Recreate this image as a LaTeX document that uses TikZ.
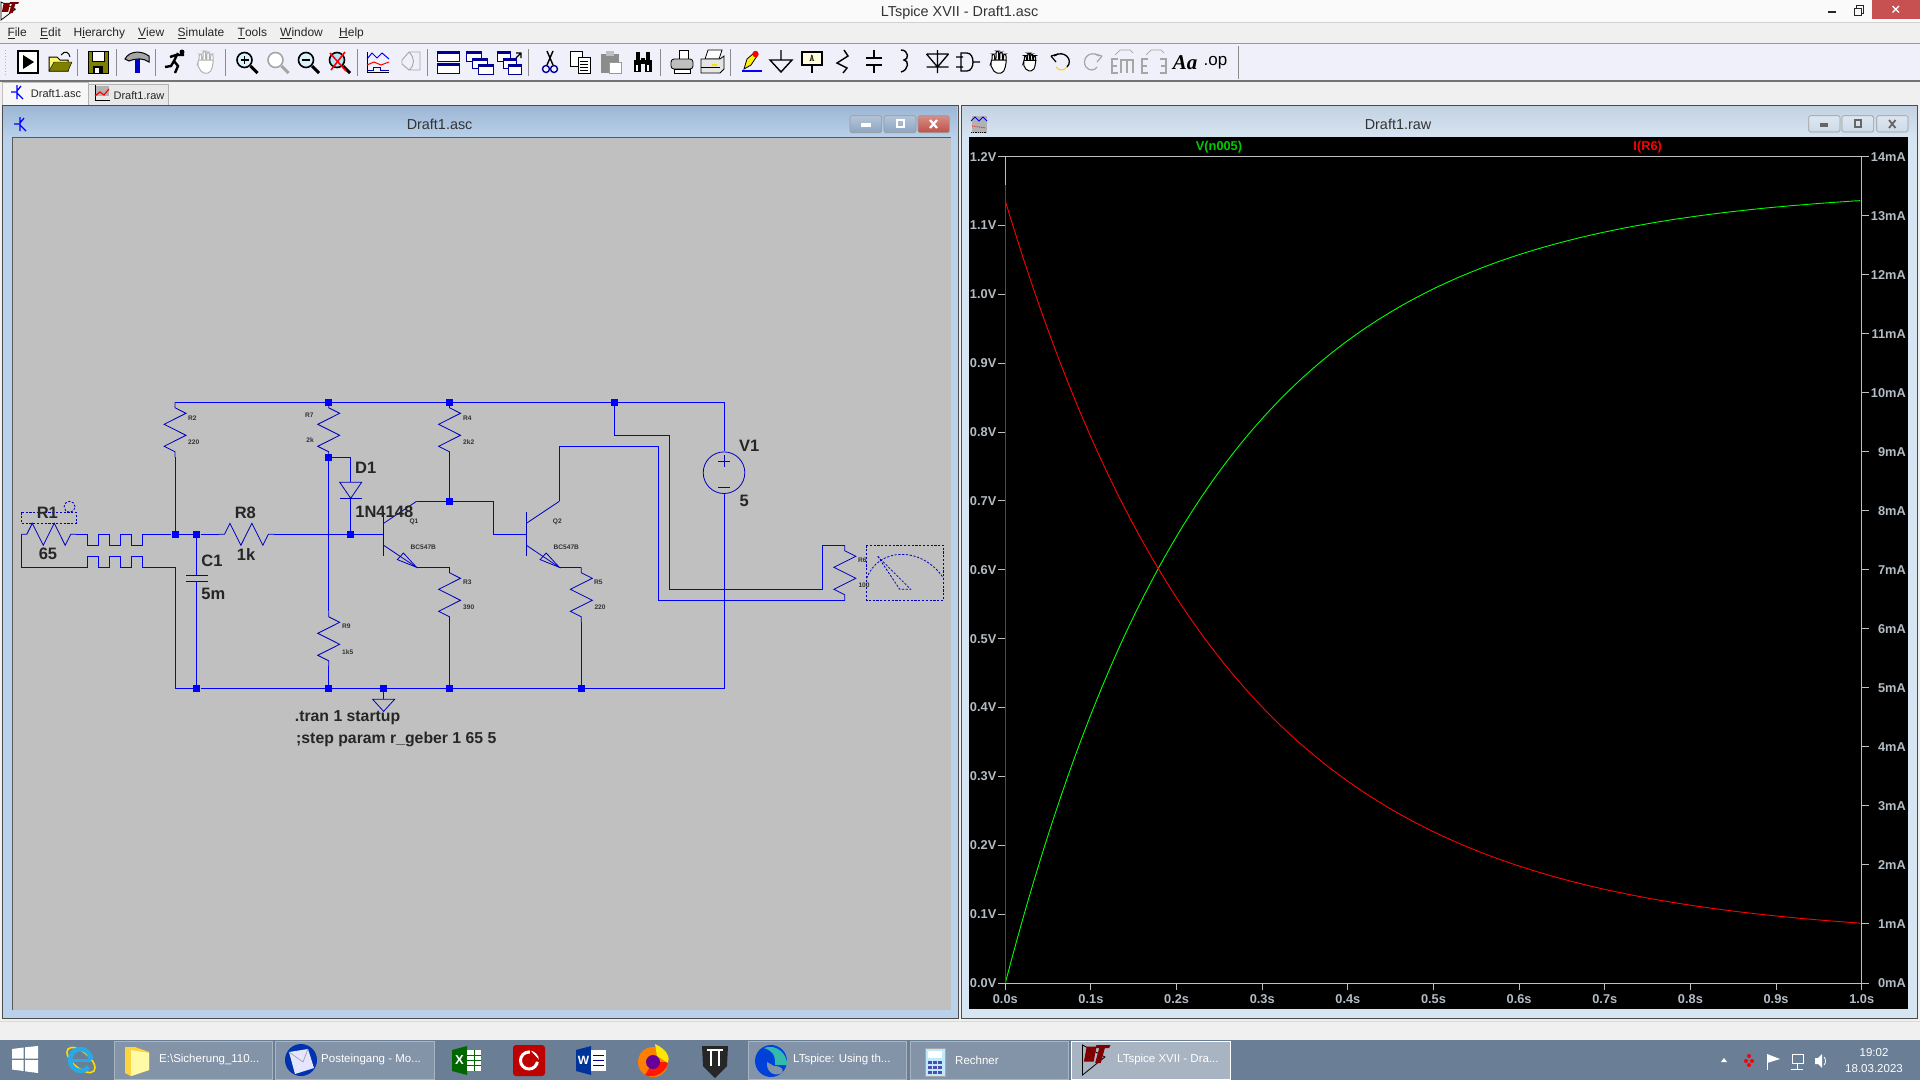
\documentclass[tikz,border=0pt]{standalone}
\usepackage{fontspec}
\setmainfont{Liberation Sans}
\newfontfamily\timesface{Liberation Serif}
\usetikzlibrary{calc}
\definecolor{wire}{RGB}{0,0,255}
\definecolor{comp}{RGB}{0,0,190}
\definecolor{sheet}{RGB}{192,192,192}
\definecolor{barbg}{RGB}{240,240,240}
\definecolor{taskbg}{RGB}{106,126,150}
\definecolor{taskbtn}{RGB}{132,148,168}
\definecolor{tickc}{RGB}{180,188,196}
\definecolor{olivec}{RGB}{128,128,0}
\definecolor{ltred}{RGB}{128,0,0}
\definecolor{framea}{RGB}{185,209,234}
\definecolor{frameb}{RGB}{215,228,242}
\definecolor{titlea}{RGB}{157,182,212}
\definecolor{titleb}{RGB}{195,210,225}
\definecolor{btnblue}{RGB}{140,165,195}
\definecolor{btnred}{RGB}{192,80,70}
\definecolor{btngrey}{RGB}{205,218,232}
\definecolor{closered}{RGB}{199,80,80}
\definecolor{ieblue}{RGB}{40,170,230}
\tikzset{
  wireline/.style={draw=wire,line width=1pt},
  compline/.style={draw=comp,line width=.8pt},
  dashline/.style={draw=comp,line width=.8pt,dash pattern=on 2.2pt off 1.6pt},
  junc/.style={fill=wire,inner sep=0pt,minimum size=7pt},
  biglabel/.style={font=\fontsize{16.5}{18}\selectfont\bfseries,text=black!85,inner sep=0pt},
  cmdlabel/.style={font=\fontsize{15.8}{18}\selectfont\bfseries,text=black!85,inner sep=0pt,anchor=base west},
  tinylabel/.style={font=\fontsize{6.6}{8}\selectfont\bfseries,text=black!80,inner sep=0pt},
  menulabel/.style={font=\fontsize{12}{14}\selectfont,text=black!85,inner sep=0pt,anchor=west},
  winlabel/.style={font=\fontsize{14.4}{16}\selectfont,text=black!80,inner sep=0pt},
  tablabel/.style={font=\fontsize{11}{13}\selectfont,text=black!85,inner sep=0pt},
  ticklabel/.style={font=\fontsize{12.8}{14}\selectfont\bfseries,text=tickc,inner sep=0pt},
  tasklabel/.style={font=\fontsize{11.5}{13}\selectfont,text=white,inner sep=0pt,anchor=west},
  axisline/.style={draw=sheet,line width=1pt},
  tbline/.style={draw=black!45,line width=.9pt},
  taskbox/.style={fill=taskbtn,draw=taskbtn!70!white,line width=.8pt},
  ghost/.style={draw=black!35,line width=1.2pt},
  winbtn/.style={draw=black!40,line width=.6pt,rounded corners=1.5pt,top color=#1!65!white,bottom color=#1},
  winbtn/.default=btnblue
}
% one zigzag, top pin at (x,y), 5 grid units long
\newcommand{\vresistor}[2]{\draw[compline] (#1,#2) -- ++(0,.5) -- ++(1,.5) -- ++(-2,1) -- ++(2,1) -- ++(-2,1) -- ++(1,.5) -- ++(0,.5);}
\newcommand{\hresistor}[2]{\draw[compline] (#1,#2) -- ++(.5,0) -- ++(.5,-1) -- ++(1,2) -- ++(1,-2) -- ++(1,2) -- ++(.5,-1) -- ++(.5,0);}
% npn, base bar at x, middle at y
\newcommand{\npn}[2]{%
  \draw[compline] (#1,#2-2) -- (#1,#2+2);
  \draw[compline] (#1,#2-1) -- (#1+3,#2-3);
  \draw[compline] (#1,#2+1) -- (#1+3,#2+3);
  \draw[compline] (#1+3,#2+3) -- (#1+1.25,#2+2.3) -- (#1+1.8,#2+1.7) -- cycle;}
\newcommand{\tbicon}[2]{\begin{scope}[shift={(#1,62)}]#2\end{scope}}
\newcommand{\lens}[2]{%
  \draw[#1,line width=3pt] (4,4) -- (11,11);
  \draw[#1,fill=#2,line width=1.6pt] (-2,-2) circle (7.5);}
\newcommand{\tbar}[1]{\draw[tbline] (#1,49) -- (#1,76);}
\newcommand{\winpane}[3]{\draw[fill=white,draw=blue!60!black,line width=1pt] (#1,#2) rectangle ++(#3,10); \fill[blue!60!black] (#1,#2) rectangle ++(#3,3);}
\newcommand{\handicon}[1]{%
  \draw[#1,fill=white,line width=1pt,rounded corners=2pt] (-7,-1) -- (-7,-8) -- (-4.5,-8) -- (-4.5,-2) -- (-3,-2) -- (-3,-11) -- (-.5,-11) -- (-.5,-2) -- (.8,-2) -- (.8,-10) -- (3.3,-10) -- (3.3,-2) -- (4.5,-2) -- (4.5,-8) -- (7,-8) -- (7,3) -- (4,11) -- (-4,11) -- (-9,2) -- cycle;}
\newcommand{\ltlogo}[1]{\begin{scope}[shift={#1}]
  \draw[black,line width=.8pt] (0,0) -- (0,1) -- (.8,.4) -- cycle;
  \fill[ltred] (.15,.05) -- (.5,.05) -- (.4,.55) -- (.05,.55) -- cycle;
  \fill[ltred] (.5,0) -- (1,0) -- (.95,.1) -- (.8,.1) -- (.65,.6) -- (.45,.6) -- (.6,.1) -- (.45,.1) -- cycle;
  \end{scope}}

\begin{document}
\begin{tikzpicture}[x=1pt,y=-1pt]
\useasboundingbox (0,0) rectangle (1920,1080);
\fill[barbg] (0,0) rectangle (1920,1080);
% title bar
\fill[white!98!black] (0,0) rectangle (1920,22);
\draw[black!18,line width=1pt] (0,22.5) -- (1920,22.5);
\begin{scope}[shift={(1,2)},x=18pt,y=-18pt]
\ltlogo{(0,0)}
\end{scope}
\node[winlabel] (maintitle) at (959.6,12.5) {LTspice XVII - Draft1.asc};
\fill[black!85] (1828,11) rectangle (1836,13.2);
\draw[black!85,line width=.9pt] (1854,8) rectangle (1861,15);
\draw[black!85,line width=.8pt] (1856,8) -- (1856,5.5) -- (1863.5,5.5) -- (1863.5,13) -- (1861,13);
\fill[closered] (1872,0) rectangle (1920,19);
\draw[white,line width=1.2pt] (1892.5,6) -- (1899,12.5) (1899,6) -- (1892.5,12.5);
% menu
\node[menulabel] (mfile) at (7.3,33) {\underline{F}ile};
\node[menulabel] (medit) at (40,33) {\underline{E}dit};
\node[menulabel] (mhier) at (73.5,33) {H\underline{i}erarchy};
\node[menulabel] (mview) at (138,33) {\underline{V}iew};
\node[menulabel] (msim) at (177.5,33) {\underline{S}imulate};
\node[menulabel] (mtool) at (237.5,33) {\underline{T}ools};
\node[menulabel] (mwin) at (280,33) {\underline{W}indow};
\node[menulabel] (mhelp) at (339,33) {\underline{H}elp};
\draw[black!40,line width=1pt] (0,43.5) -- (1920,43.5);
% toolbar
\fill[white!96!blue!98!black] (0,44) rectangle (1920,80);
\draw[black!55,line width=1.6pt] (0,81) -- (1920,81);
\draw[black!30,line width=1pt,dotted] (5,50) -- (5,76);
\draw[black!45,line width=.9pt] (1238.5,46) -- (1238.5,79);
\foreach \sx in {77.5,116,155.5,225,357.5,427,528.6,660,730.6} {\tbar{\sx}}
\tbicon{28}{\draw[black,fill=white,line width=1.3pt] (-10,-11) rectangle (10,11); \fill[black] (-5,-7) -- (6,0) -- (-5,7) -- cycle;}
\tbicon{60}{\draw[black,fill=yellow!55!white,line width=1pt] (-11,-5) -- (-3,-5) -- (0,-2) -- (8,-2) -- (8,9) -- (-11,9) -- cycle; \fill[olivec,draw=black] (-11,9) -- (-6,0) -- (12,0) -- (8,9) -- cycle; \draw[black,line width=1pt] (1,-7) .. controls (5,-12) and (9,-10) .. (10,-5);}
\tbicon{98}{\fill[olivec,draw=black,line width=1pt] (-10,-11) rectangle (10,11); \fill[white,draw=black] (-6,-11) rectangle (6,-1); \fill[black] (-5,4) rectangle (5,11); \fill[white] (-3,6) rectangle (1,11);}
\tbicon{137}{\draw[black,fill=black!35,line width=1pt] (-12,-3) .. controls (-8,-11) and (4,-12) .. (12,-6) -- (12,0) .. controls (6,-4) and (0,-4) .. (-8,-1) -- cycle; \fill[blue!80!black] (-2.5,-3) rectangle (3,11);}
\tbicon{175}{\draw[black,line width=2.4pt] (3,-9) -- (-1,-1) -- (3,4) -- (0,11) (-1,-1) -- (-4,4) -- (-10,5) (2,-7) -- (9,-7) (1,-7) -- (-5,-5); \fill[black] (7,-10) circle (2.5);}
\tbicon{206}{\handicon{black!30}}
\tbicon{246.5}{\lens{black}{cyan!15}\draw[black,line width=1.5pt] (-6,-2) -- (2,-2) (-2,-6) -- (-2,2);}
\tbicon{277.5}{\lens{black!35}{white}}
\tbicon{308}{\lens{black}{cyan!15}\draw[black,line width=1.5pt] (-6,-2) -- (2,-2);}
\tbicon{339}{\lens{black}{cyan!30}\draw[red,line width=1.6pt] (-9,-9) -- (7,9) (6,-10) -- (-8,8);}
\tbicon{378}{\draw[black,line width=.9pt] (-11,-10) -- (-11,10) -- (11,10); \draw[blue,line width=1pt] (-11,-3) -- (-6,-9) -- (-1,-4) -- (4,-9) -- (11,-3); \draw[red,line width=1pt] (-11,3) -- (-4,0) -- (3,3) -- (11,0); \draw[blue!70!black,line width=1pt] (-11,8) -- (-5,8) -- (-5,5) -- (2,5) -- (2,8) -- (11,8);}
\tbicon{412}{\draw[ghost,line width=.9pt] (-10,-2) -- (-3,-10) -- (8,-10) -- (8,8) -- (-3,8) -- (-10,2) -- cycle (-3,-10) .. controls (3,-4) and (3,3) .. (-3,8);}
\tbicon{448}{\winpane{-11}{-11}{22}\winpane{-11}{1}{22}}
\tbicon{478}{\winpane{-12}{-11}{15}\winpane{-6}{-4}{15}\winpane{0}{2}{15}}
\tbicon{509}{\winpane{-12}{-11}{13}\winpane{-6}{-4}{13}\winpane{-1}{2}{13}\draw[black,line width=1.2pt] (7,-4) -- (12,-9) (7,-9) -- (12,-9) -- (12,-4);}
\tbicon{550}{\draw[black,line width=1.4pt] (-3,-11) -- (3,3) (3,-11) -- (-3,3); \draw[blue!60!black,line width=1.4pt] (-4,7) circle (3.5) (4,7) circle (3.5);}
\tbicon{580}{\draw[black,fill=white,line width=.9pt] (-10,-11) rectangle (2,4); \draw[black,fill=white,line width=.9pt] (-2,-5) rectangle (10,11); \draw[black,line width=.9pt] (0,-1) -- (8,-1) (0,2) -- (8,2) (0,5) -- (8,5) (0,8) -- (8,8);}
\tbicon{611}{\fill[black!45] (-10,-8) rectangle (8,11); \fill[black!25] (-5,-11) rectangle (3,-6); \fill[white,draw=black!40] (-2,0) rectangle (10,11);}
\tbicon{643}{\fill[black] (-9,-2) rectangle (-2,10); \fill[black] (2,-2) rectangle (9,10); \fill[black] (-7,-10) rectangle (-3,-2); \fill[black] (3,-10) rectangle (7,-2); \fill[black] (-2,-4) rectangle (2,2); \fill[white] (-7,3) rectangle (-5,9);\fill[white] (4,3) rectangle (6,9);}
\tbicon{682}{\draw[black,fill=white,line width=.8pt] (-3,-12) -- (6,-12) -- (6,-3) -- (-3,-3) -- cycle; \draw[black,fill=black!25,line width=.8pt,rounded corners=3pt] (-11,-3) rectangle (11,7); \draw[black,fill=white,line width=.8pt] (-8,7) rectangle (8,11);}
\tbicon{712}{\draw[black,fill=white,line width=.8pt] (-4,-12) -- (10,-12) -- (7,-3) -- (-7,-3) -- cycle; \draw[black,fill=white!90!black,line width=.8pt] (-11,-3) -- (8,-3) -- (12,-6) -- (12,7) -- (8,11) -- (-11,11) -- cycle; \fill[yellow!80!orange] (0,2) rectangle (5,3.5); \draw[black,line width=.7pt] (-11,5) -- (8,5);}
\tbicon{752}{\fill[yellow,draw=black,line width=.8pt] (-8,7) -- (-5,-3) -- (2,-9) -- (5,-6) -- (-1,3) -- cycle; \fill[red] (3.5,-8) circle (3.2); \draw[blue,line width=1.2pt] (-10,9) -- (10,9);}
\tbicon{781}{\draw[black,line width=1.4pt] (0,-12) -- (0,-2) (-11,-2) -- (11,-2) -- (0,10) -- cycle;}
\tbicon{812}{\draw[black,fill=yellow!15!white,line width=1.5pt] (-10,-10) rectangle (10,3); \draw[black,line width=1.2pt] (0,3) -- (0,11); \node[inner sep=0pt,font=\fontsize{10}{10}\selectfont\ttfamily\bfseries] (tbA) at (0,-3.5) {A};}
\tbicon{843}{\draw[black,line width=1.4pt] (1,-12) -- (5,-6) -- (-6,1) -- (4,6) -- (0,11);}
\tbicon{874}{\draw[black,line width=1.4pt] (0,-12) -- (0,-4) (-8,-4) -- (8,-4) (-8,3) -- (8,3) (0,3) -- (0,11);}
\tbicon{905}{\draw[black,line width=1.4pt] (-4,-12) .. controls (4,-12) and (4,-2) .. (-1,-2) .. controls (4,-2) and (4,8) .. (-4,10);}
\tbicon{937.5}{\draw[black,line width=1.3pt] (0,-12) -- (0,11) (-11,-8) -- (11,-8) (-11,-8) -- (0,5) -- (11,-8) (-11,5) -- (11,5);}
\tbicon{968}{\draw[black,line width=1.3pt] (-12,-5) -- (-5,-5) (-12,5) -- (-5,5) (-7,-9) -- (-1,-9) .. controls (7,-9) and (7,9) .. (-1,9) -- (-7,9) -- cycle (5,0) -- (12,0);}
\tbicon{999}{\handicon{black}}
\tbicon{1030}{\begin{scope}[scale=.8]\handicon{black}\end{scope}}
\tbicon{1061}{\draw[black,line width=1.3pt] (-7,-6) .. controls (3,-13) and (13,-2) .. (6,5); \draw[yellow!70!orange,line width=1pt] (6,5) .. controls (3,9) and (-2,9) .. (-5,5); \draw[black,line width=1.2pt] (-10,-6) -- (-3,-8) (-10,-6) -- (-5,0);}
\tbicon{1092}{\draw[ghost] (7,-6) .. controls (-3,-13) and (-11,-2) .. (-6,5) .. controls (-3,9) and (3,9) .. (5,5); \draw[ghost] (10,-6) -- (3,-8) (10,-6) -- (5,0);}
\tbicon{1123}{\draw[ghost,line width=2pt] (-5,-3) -- (-11,-3) -- (-11,11) -- (-5,11) (-11,4) -- (-6,4) (-2,11) -- (-2,-2) -- (4,-2) -- (4,11) (10,11) -- (10,-2) -- (4,-2); \draw[ghost,line width=.7pt] (-8,-7) -- (-3,-12) -- (7,-12) -- (10,-9);}
\tbicon{1154}{\draw[ghost,line width=2pt] (-6,-3) -- (-12,-3) -- (-12,11) -- (-6,11) (-12,4) -- (-7,4) (6,-3) -- (12,-3) -- (12,11) -- (6,11) (7,4) -- (12,4); \draw[ghost,line width=.7pt] (-8,-7) -- (-3,-12) -- (7,-12) -- (10,-9);}
\node[inner sep=0pt,font=\fontsize{21}{22}\selectfont\timesface\bfseries\itshape] (tbAa) at (1185,63) {Aa};
\node[inner sep=0pt,font=\fontsize{17}{18}\selectfont] (tbop) at (1215.5,63) {.op};
% tabs
\fill[white!97!black,draw=black!25,line width=.6pt] (2,105) -- (2,82) -- (88.6,82) -- (88.6,105);
\fill[black!9,draw=black!30,line width=.6pt] (88.6,105) -- (88.6,84) -- (168,84) -- (168,105);
\node[tablabel] (tabasc) at (56,93.5) {Draft1.asc};
\node[tablabel] (tabraw) at (139,95.5) {Draft1.raw};
\draw[blue,line width=1.3pt] (17,85) -- (17,99) (17,91) -- (21,86) (17,93) -- (23,99) (11,92) -- (17,92);
\fill[black!30] (96,86) rectangle (109,96);
\draw[black,line width=.8pt] (95,85) -- (95,100) -- (110,100);
\draw[red,line width=1.2pt] (95,96) -- (100,92) -- (104,95) -- (109,89);
% schematic window
\fill[framea,draw=black!70,line width=1pt] (2,105) rectangle (958,1018);
\shade[top color=titlea,bottom color=framea] (3,106) rectangle (957,137);
\fill[sheet] (12,137) rectangle (951,1010);
\draw[black!65,line width=1pt] (12,1010) -- (12,137) -- (951,137);
\node[winlabel] (asctitle) at (439.6,124.5) {Draft1.asc};
\draw[blue,line width=1.3pt] (20,117) -- (20,131) (20,123) -- (24,118) (20,125) -- (26,131) (14,124) -- (20,124);
\draw[winbtn] (850,115.7) rectangle (881.6,132.7);
\draw[winbtn] (884,115.7) rectangle (916,132.7);
\draw[winbtn=btnred] (918,115.7) rectangle (949.4,132.7);
\fill[white] (861,122.5) rectangle (871,127);
\draw[white,line width=2pt] (896.5,120) rectangle (903.5,127);
\draw[white,line width=2.2pt] (930,120) -- (937,128) (937,120) -- (930,128);
% waveform window
\fill[frameb,draw=black!70,line width=1pt] (961,105) rectangle (1917.7,1018);
\shade[top color=titleb,bottom color=frameb] (962,106) rectangle (1916.7,137);
\fill[black] (969.3,137) rectangle (1908,1009);
\node[winlabel] (rawtitle) at (1398,124.5) {Draft1.raw};
\fill[black!30] (972,116) rectangle (987,133);
\draw[blue,line width=.8pt] (971,121) -- (975,117) -- (979,121) -- (983,117) -- (987,121);
\draw[red,line width=.8pt,densely dotted] (972,126) -- (986,128);
\draw[black,line width=.8pt,densely dotted] (971,132.5) -- (987,132.5);
\draw[winbtn=btngrey] (1808.7,115.7) rectangle (1840,132);
\draw[winbtn=btngrey] (1842,115.7) rectangle (1873.6,132);
\draw[winbtn=btngrey] (1876.7,115.7) rectangle (1908,132);
\fill[black!60] (1820,123) rectangle (1828,127);
\draw[black!60,line width=1.5pt] (1855,120) rectangle (1861,127);
\draw[black!60,line width=1.8pt] (1889,120) -- (1895.5,128) (1895.5,120) -- (1889,128);
% axes and ticks
\draw[axisline] (1005.3,156.7) rectangle (1861.7,983);
\foreach \n/\v in {0/0.0,1/0.1,2/0.2,3/0.3,4/0.4,5/0.5,6/0.6,7/0.7,8/0.8,9/0.9,10/1.0,11/1.1,12/1.2} {
  \draw[axisline] (1005.3,983-68.86*\n) -- ++(-7,0);
  \node[ticklabel,anchor=east] (vt\n) at (996.5,983-68.86*\n) {\v V};
}
\foreach \n in {0,...,14} {
  \draw[axisline] (1861.7,983-59.02*\n) -- ++(7,0);
  \node[ticklabel,anchor=east] (it\n) at (1906,983-59.02*\n) {\n mA};
}
\foreach \n/\v in {0/0.0,1/0.1,2/0.2,3/0.3,4/0.4,5/0.5,6/0.6,7/0.7,8/0.8,9/0.9,10/1.0} {
  \draw[axisline] (1005.3+85.64*\n,983) -- ++(0,7);
  \node[ticklabel] (tt\n) at (1005.3+85.64*\n,999.3) {\v s};
}
\node[font=\fontsize{12.8}{14}\selectfont\bfseries,text=green!80!black,inner sep=0pt] (vtrace) at (1219,147.5) {V(n005)};
\node[font=\fontsize{12.8}{14}\selectfont\bfseries,text=red,inner sep=0pt] (itrace) at (1647.7,147.5) {I(R6)};
\draw[green,line width=.9pt] plot[domain=0:1,samples=150] ({1005.3+856.4*\x},{983-688.6*1.155*(1-exp(-\x/0.2425))});
\draw[red,line width=.9pt] (1005.3,983) -- (1005.3,185) -- (1005.3,201);
\draw[red,line width=.9pt] plot[domain=0:1,samples=150] ({1005.3+856.4*\x},{983-59.02*(0.75+12.5*exp(-\x/0.259))});
% schematic, in LTspice grid units
\begin{scope}[shift={(21.3,402.3)},x=10.98pt,y=-11pt]
  \node[junc] (jr2) at (14,12) {};
  \node[junc] (jc1) at (16,12) {};
  \node[junc] (jbase) at (30,12) {};
  \node[junc] (jr7top) at (28,0) {};
  \node[junc] (jr4top) at (39,0) {};
  \node[junc] (jr6top) at (54,0) {};
  \node[junc] (jd1) at (28,5) {};
  \node[junc] (jcoll) at (39,9) {};
  \node[junc] (jgc1) at (16,26) {};
  \node[junc] (jgr9) at (28,26) {};
  \node[junc] (jgnd) at (33,26) {};
  \node[junc] (jgr3) at (39,26) {};
  \node[junc] (jgr5) at (51,26) {};
  \coordinate (vplus) at (64,4.43);
  \coordinate (vminus) at (64,8.36);
  % top and bottom rails
  \draw[wireline] (14,0) -- (jr7top) -- (jr4top) -- (jr6top) -- (64,0) -- (vplus);
  \draw[wireline] (14,15) -- (14,26) -- (jgc1) -- (jgr9) -- (jgnd) -- (jgr3) -- (jgr5) -- (64,26) -- (vminus);
  % R1 with its two meanders
  \hresistor{0}{12}
  \draw[wireline] (5,12) -- (6,12) -- (6,13) -- (7,13) -- (7,12) -- (8,12) -- (8,13) -- (9,13) -- (9,12) -- (10,12) -- (10,13) -- (11,13) -- (11,12) -- (jr2);
  \draw[wireline] (0,12) -- (0,15) -- (6,15) -- (6,14) -- (7,14) -- (7,15) -- (8,15) -- (8,14) -- (9,14) -- (9,15) -- (10,15) -- (10,14) -- (11,14) -- (11,15) -- (14,15);
  \draw[dashline] (0,10) rectangle (5,11);
  \draw[dashline] (4.4,9.5) circle (5.5pt);
  \draw[wireline] (jr2) -- (jc1) -- (18,12);
  \hresistor{18}{12}
  \draw[wireline] (23,12) -- (jbase) -- (33,12);
  \vresistor{14}{0}
  \draw[wireline] (14,5) -- (jr2);
  \vresistor{28}{0}
  \draw[wireline] (jd1) -- (28,19);
  \draw[wireline] (jd1) -- (30,5) -- (30,7.27);
  \draw[compline] (29,7.27) -- (31,7.27) -- (30,8.73) -- cycle;
  \draw[compline] (29,8.73) -- (31,8.73);
  \draw[wireline] (30,8.73) -- (jbase);
  % C1
  \draw[wireline] (jc1) -- (16,15.76);
  \draw[compline] (15,15.76) -- (17,15.76) (15,16.27) -- (17,16.27);
  \draw[wireline] (16,16.27) -- (jgc1);
  % R9
  \vresistor{28}{19}
  \draw[wireline] (28,24) -- (jgr9);
  \vresistor{39}{0}
  \draw[wireline] (39,5) -- (jcoll);
  % Q1
  \npn{33}{12}
  \draw[wireline] (36,9) -- (jcoll);
  \draw[wireline] (36,15) -- (39,15);
  \vresistor{39}{15}
  \draw[wireline] (39,20) -- (jgr3);
  % Q2
  \npn{46}{12}
  \draw[wireline] (jcoll) -- (43,9) -- (43,12) -- (46,12);
  \draw[wireline] (49,9) -- (49,4) -- (58,4) -- (58,18) -- (75,18);
  \draw[wireline] (49,15) -- (51,15);
  \vresistor{51}{15}
  \draw[wireline] (51,20) -- (jgr5);
  % R6 and the meter over it
  \draw[wireline] (jr6top) -- (54,3) -- (59,3) -- (59,17) -- (73,17) -- (73,13) -- (75,13);
  \vresistor{75}{13}
  \draw[dashline] (77,13) rectangle (84,18);
  \draw[dashline] (77,16) .. controls (78,13.2) and (82,13) .. (84,16);
  \draw[dashline] (78,14) -- (80,17) -- (81,17) -- cycle;
  % ground
  \draw[wireline] (jgnd) -- (33,27);
  \draw[compline] (32,27) -- (34,27) -- (33,28.1) -- cycle;
  % V1
  \draw[compline] (64,6.4) circle (20.8pt);
  \draw[compline] (64,4.8) -- (64,5.9) (63.45,5.33) -- (64.55,5.33) (63.45,7.76) -- (64.5,7.76);
\end{scope}
% schematic texts
\node[biglabel] (lbrone) at (47.3,513.3) {R1};
\node[biglabel] (lbrval) at (48,554) {65};
\node[biglabel] (lbreight) at (245.3,513.3) {R8};
\node[biglabel] (lbkval) at (246,554.3) {1k};
\node[biglabel] (lbcone) at (212,561.3) {C1};
\node[biglabel] (lbcval) at (213.3,594.3) {5m};
\node[biglabel] (lbdone) at (365.7,468.3) {D1};
\node[biglabel] (lbdval) at (384.3,512.3) {1N4148};
\node[biglabel] (lbvone) at (749.3,446) {V1};
\node[biglabel] (lbvval) at (744.3,501) {5};
\node[cmdlabel] (lbtran) at (294.7,721) {.tran 1 startup};
\node[cmdlabel] (lbstep) at (296,743) {;step param r\_geber 1 65 5};
\node[tinylabel] (lbrtwo) at (192.3,418.3) {R2};
\node[tinylabel] (lbrtwov) at (193.7,442.3) {220};
\node[tinylabel] (lbrsev) at (309.3,415.3) {R7};
\node[tinylabel] (lbrsevv) at (310,440.3) {2k};
\node[tinylabel] (lbrfour) at (467.3,418.3) {R4};
\node[tinylabel] (lbrfourv) at (468.7,442.3) {2k2};
\node[tinylabel] (lbqone) at (414,522.3) {Q1};
\node[tinylabel] (lbqonev) at (423.3,547.7) {BC547B};
\node[tinylabel] (lbrthr) at (467.3,582.3) {R3};
\node[tinylabel] (lbrthrv) at (468.7,607.3) {390};
\node[tinylabel] (lbrnine) at (346.3,626.3) {R9};
\node[tinylabel] (lbrninev) at (347.7,651.7) {1k5};
\node[tinylabel] (lbqtwo) at (557.3,522.3) {Q2};
\node[tinylabel] (lbqtwov) at (566.3,547.7) {BC547B};
\node[tinylabel] (lbrfive) at (598.3,582.3) {R5};
\node[tinylabel] (lbrfivev) at (600,607.3) {220};
\node[tinylabel] (lbrsix) at (862.3,560.7) {R6};
\node[tinylabel] (lbrsixv) at (864,585.7) {100};
% status bar and taskbar
\draw[black!15,line width=1pt] (0,1021) -- (1920,1021);
\fill[taskbg] (0,1040) rectangle (1920,1080);
\foreach \ax/\bx in {114/272,275.5/434,748/906,910/1068} {\draw[taskbox] (\ax,1041) rectangle (\bx,1079);}
\draw[fill=taskbtn!70!white,draw=white,line width=1pt] (1071,1041) rectangle (1230,1079);
% start logo
\fill[white] (12,1049) -- (23.5,1047.5) -- (23.5,1058.5) -- (12,1058.5) -- cycle;
\fill[white] (25,1047.3) -- (38,1046) -- (38,1058.5) -- (25,1058.5) -- cycle;
\fill[white] (12,1060) -- (23.5,1060) -- (23.5,1071) -- (12,1069.5) -- cycle;
\fill[white] (25,1060) -- (38,1060) -- (38,1073) -- (25,1071.3) -- cycle;
% explorer
\draw[yellow!80!orange,line width=1.6pt,rotate around={-40:(81,1060)}] (81,1060) ellipse (17 and 8);
\draw[ieblue,line width=4.5pt] (91,1060) arc (0:-320:10.5 and 11);
\draw[ieblue,line width=3.5pt] (71,1060.5) -- (91,1060.5);
% folder
\fill[yellow!60!orange!75!white] (125,1047) -- (135,1047) -- (149,1052) -- (149,1070) -- (131,1076) -- (125,1073) -- cycle;
\fill[yellow!35!white] (131,1050) -- (149,1053) -- (149,1070) -- (131,1076) -- cycle;
\node[tasklabel] (tkexpl) at (159,1060) {E:\textbackslash Sicherung\_110...};
% mail
\fill[blue!60!black!80!cyan] (301,1060) circle (16);
\fill[white!90!blue] (289,1052) -- (308,1049) -- (314,1068) -- (295,1074) -- cycle;
\draw[black!40,line width=.6pt] (289,1052) -- (303,1062) -- (308,1049);
\node[tasklabel] (tkmail) at (321,1060) {Posteingang - Mo...};
% excel
\fill[green!40!black] (452,1050) -- (467,1046) -- (467,1075) -- (452,1071) -- cycle;
\fill[white] (467,1050) rectangle (481,1071);
\draw[green!40!black,line width=.8pt] (467,1055) -- (481,1055) (467,1060) -- (481,1060) (467,1065) -- (481,1065) (474,1050) -- (474,1071);
\node[inner sep=0pt,text=white,font=\fontsize{13}{13}\selectfont\bfseries] (tkx) at (459.5,1060.5) {X};
% red app
\fill[red!75!black,rounded corners=3pt] (513,1045) rectangle (545,1076);
\draw[white,line width=3pt] (529,1060.5) circle (8.5);
\fill[red!75!black] (530,1050) -- (541,1062) -- (530,1061) -- cycle;
% word
\fill[blue!50!black!80!cyan] (576,1050) -- (591,1046) -- (591,1075) -- (576,1071) -- cycle;
\fill[white] (591,1050) rectangle (606,1071);
\draw[blue!50!black,line width=1pt] (593,1055) -- (604,1055) (593,1060) -- (604,1060) (593,1065) -- (604,1065);
\node[inner sep=0pt,text=white,font=\fontsize{12}{12}\selectfont\bfseries] (tkw) at (583.5,1060.5) {W};
% firefox
\fill[orange] (653,1062) circle (15);
\fill[red!80!orange] (645,1075) .. controls (655,1080) and (668,1070) .. (668,1062) -- (653,1062) -- cycle;
\fill[yellow!90!orange] (655,1044) .. controls (668,1050) and (670,1058) .. (668,1063) -- (657,1056) -- cycle;
\fill[violet!80!blue] (653,1062) circle (7);
% tanks
\fill[black!85] (702,1046) -- (728,1046) -- (727,1066) -- (715,1078) -- (703,1066) -- cycle;
\draw[white,line width=1.3pt] (707,1050) -- (723,1050) (711,1050) -- (711,1066) (719,1050) -- (719,1066);
% edge
\fill[blue!70!cyan!85!black] (771,1061) circle (16);
\fill[cyan!50!green!80!white] (764,1048) .. controls (778,1043) and (788,1056) .. (787,1065) -- (775,1065) .. controls (776,1053) and (770,1050) .. (764,1048) -- cycle;
\fill[taskbtn] (774,1066) .. controls (782,1066) and (784,1070) .. (782,1073) .. controls (774,1077) and (766,1072) .. (767,1062) -- cycle;
\node[tasklabel] (tkedge) at (793,1060) {LTspice: Using th...};
% calculator
\fill[cyan!25!white,draw=black!35] (925,1048) rectangle (945,1076);
\fill[white] (928,1051) rectangle (942,1058);
\foreach \cy in {1061,1066,1071} {\foreach \cx in {928,933,938} {\fill[blue!40!gray] (\cx,\cy) rectangle ++(3.5,3);}}
\node[tasklabel] (tkcalc) at (955,1060) {Rechner};
% lt logo
\begin{scope}[shift={(1082.5,1045)},x=28pt,y=-30pt]
\ltlogo{(0,0)}
\end{scope}
\node[tasklabel] (tklt) at (1117,1060) {LTspice XVII - Dra...};
% tray
\fill[white] (1721,1062) -- (1727,1062) -- (1724,1058) -- cycle;
\foreach \rx/\ry in {1749/1056,1746/1061,1752/1061,1749/1065} {\fill[red] (\rx,\ry) circle (2);}
\draw[white,line width=1pt] (1767,1054) -- (1767,1070);
\fill[white] (1767,1054) -- (1780,1059) -- (1767,1063) -- cycle;
\draw[white,line width=1pt] (1792,1054) rectangle (1803,1063) (1797,1063) -- (1797,1069) (1791,1069) -- (1803,1069);
\fill[white] (1815,1058) -- (1818,1058) -- (1822,1054) -- (1822,1068) -- (1818,1064) -- (1815,1064) -- cycle;
\draw[white,line width=.8pt] (1824,1057) .. controls (1826,1059) and (1826,1063) .. (1824,1065);
\node[inner sep=0pt,text=white,font=\fontsize{11.5}{13}\selectfont] (tktime) at (1874,1052.7) {19:02};
\node[inner sep=0pt,text=white,font=\fontsize{11.5}{13}\selectfont] (tkdate) at (1874,1069) {18.03.2023};
\end{tikzpicture}
\end{document}
